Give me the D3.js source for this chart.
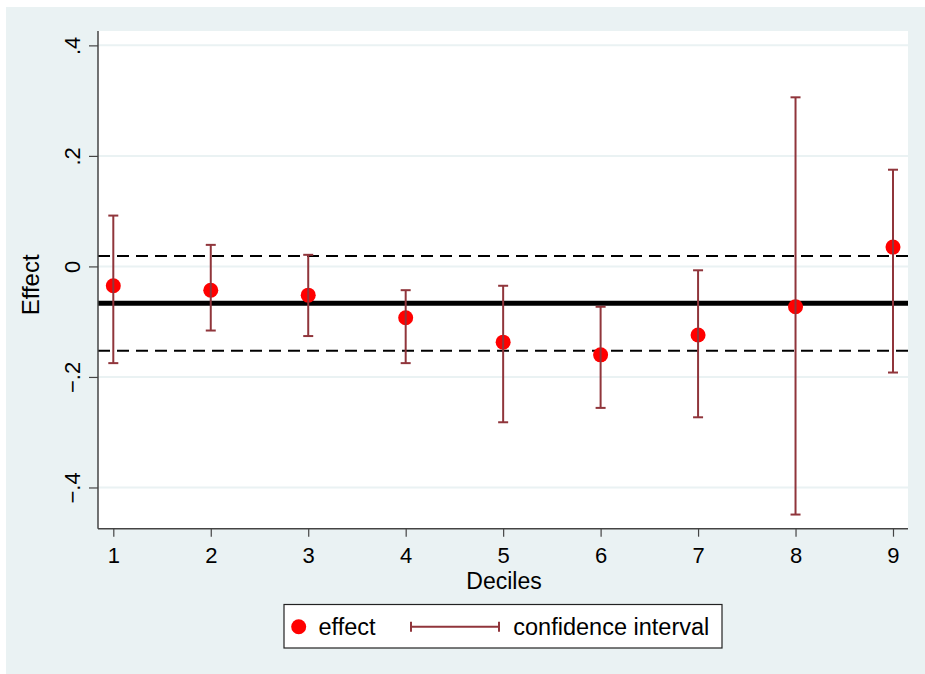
<!DOCTYPE html>
<html>
<head>
<meta charset="utf-8">
<script src="https://cdn.jsdelivr.net/npm/d3@7"></script>
<style>
  html, body { margin: 0; padding: 0; background: #ffffff; }
  svg { display: block; }
  text { font-family: "Liberation Sans", Arial, sans-serif; fill: #000; }
</style>
</head>
<body>
<script>
// ---- data ----
const deciles = [1, 2, 3, 4, 5, 6, 7, 8, 9];
const effect  = [-0.035, -0.043, -0.052, -0.093, -0.137, -0.160, -0.124, -0.073, 0.035];
const ciLow   = [-0.175, -0.116, -0.126, -0.175, -0.282, -0.256, -0.273, -0.449, -0.192];
const ciHigh  = [ 0.092,  0.039,  0.021, -0.043, -0.035, -0.073, -0.007,  0.306,  0.175];
const overallEffect = -0.0665;
const overallCI = [-0.1525, 0.019];
const yTicks = [-0.4, -0.2, 0, 0.2, 0.4];
const xTicks = [1, 2, 3, 4, 5, 6, 7, 8, 9];
const xTitle = "Deciles";
const yTitle = "Effect";
const legendLabels = ["effect", "confidence interval"];

// ---- layout ----
const W = 925, H = 674;
const plot = { left: 98, right: 908, top: 31, bottom: 528.7 };
const bg = "#eaf2f3";
const ciColor = "#90353b";
const dotColor = "#ff0000";

const svg = d3.select("body").append("svg").attr("width", W).attr("height", H);

svg.append("rect").attr("x", 6).attr("y", 7).attr("width", W - 6).attr("height", H - 7).attr("fill", bg);
svg.append("rect").attr("x", plot.left).attr("y", plot.top)
  .attr("width", plot.right - plot.left).attr("height", plot.bottom - plot.top).attr("fill", "#fff");

const x = d3.scaleLinear().domain([0.843, 9.154]).range([plot.left, plot.right]);
const y = d3.scaleLinear().domain([-0.4746, 0.426]).range([plot.bottom, plot.top]);

// gridlines
svg.append("g").selectAll("line").data(yTicks).join("line")
  .attr("x1", plot.left).attr("x2", plot.right)
  .attr("y1", d => y(d)).attr("y2", d => y(d))
  .attr("stroke", bg).attr("stroke-width", 2);

// reference lines
const refG = svg.append("g");
overallCI.forEach(v => {
  refG.append("line")
    .attr("x1", plot.left).attr("x2", plot.right)
    .attr("y1", y(v)).attr("y2", y(v))
    .attr("stroke", "#000").attr("stroke-width", 2).attr("stroke-dasharray", "12,7");
});
refG.append("line")
  .attr("x1", plot.left).attr("x2", plot.right)
  .attr("y1", y(overallEffect)).attr("y2", y(overallEffect))
  .attr("stroke", "#000").attr("stroke-width", 5);

// dots
svg.append("g").selectAll("circle").data(deciles).join("circle")
  .attr("cx", d => x(d)).attr("cy", (d, i) => y(effect[i])).attr("r", 7.5)
  .attr("fill", dotColor);

// error bars
const eb = svg.append("g").attr("stroke", ciColor).attr("stroke-width", 2);
deciles.forEach((d, i) => {
  const cx = x(d);
  eb.append("line").attr("x1", cx).attr("x2", cx).attr("y1", y(ciLow[i])).attr("y2", y(ciHigh[i]));
  eb.append("line").attr("x1", cx - 5).attr("x2", cx + 5).attr("y1", y(ciLow[i])).attr("y2", y(ciLow[i]));
  eb.append("line").attr("x1", cx - 5).attr("x2", cx + 5).attr("y1", y(ciHigh[i])).attr("y2", y(ciHigh[i]));
});

// axes
const fmt = d => d === 0 ? "0" : d3.format(".1f")(d).replace("0.", ".");
const yAxis = svg.append("g").attr("transform", `translate(${plot.left},0)`)
  .call(d3.axisLeft(y).tickValues(yTicks).tickFormat(fmt).tickSize(9).tickSizeOuter(0));
yAxis.select(".domain").attr("d", `M0,${plot.top}V${plot.bottom}`);
yAxis.selectAll("text")
  .attr("transform", "rotate(-90)").attr("x", 0).attr("y", -18).attr("dy", 0)
  .attr("text-anchor", "middle").style("font-size", "22px");

const xAxis = svg.append("g").attr("transform", `translate(0,${plot.bottom})`)
  .call(d3.axisBottom(x).tickValues(xTicks).tickFormat(d3.format("d")).tickSize(8).tickSizeOuter(0));
xAxis.select(".domain").attr("d", `M${plot.left},0H${plot.right}`);
xAxis.selectAll("text").attr("y", 34).attr("dy", 0).style("font-size", "22px");

[yAxis, xAxis].forEach(a => {
  a.selectAll(".domain").attr("stroke", "#444").attr("stroke-width", 1.5);
  a.selectAll(".tick line").attr("stroke", "#444").attr("stroke-width", 1.2);
  a.selectAll("text").attr("fill", "#000").style("font-family", '"Liberation Sans", Arial, sans-serif');
});

// titles
svg.append("text").attr("x", (plot.left + plot.right) / 2 + 1).attr("y", 589)
  .attr("text-anchor", "middle").style("font-size", "23px").text(xTitle);
svg.append("text").attr("transform", `translate(38.5,${(plot.top + plot.bottom) / 2 + 5}) rotate(-90)`)
  .attr("text-anchor", "middle").style("font-size", "24px").text(yTitle);

// legend
const lg = svg.append("g");
lg.append("rect").attr("x", 284).attr("y", 604.5).attr("width", 438).attr("height", 43.5)
  .attr("fill", "#fff").attr("stroke", "#222").attr("stroke-width", 1.2);
lg.append("circle").attr("cx", 298.7).attr("cy", 626.7).attr("r", 7.5).attr("fill", dotColor);
lg.append("text").attr("x", 318.5).attr("y", 635).style("font-size", "23.5px").text(legendLabels[0]);
const lci = lg.append("g").attr("stroke", ciColor).attr("stroke-width", 2);
lci.append("line").attr("x1", 411).attr("x2", 499).attr("y1", 626.7).attr("y2", 626.7);
lci.append("line").attr("x1", 411).attr("x2", 411).attr("y1", 621.7).attr("y2", 631.7);
lci.append("line").attr("x1", 499).attr("x2", 499).attr("y1", 621.7).attr("y2", 631.7);
lg.append("text").attr("x", 513.3).attr("y", 635).style("font-size", "23.5px").text(legendLabels[1]);
</script>
</body>
</html>
